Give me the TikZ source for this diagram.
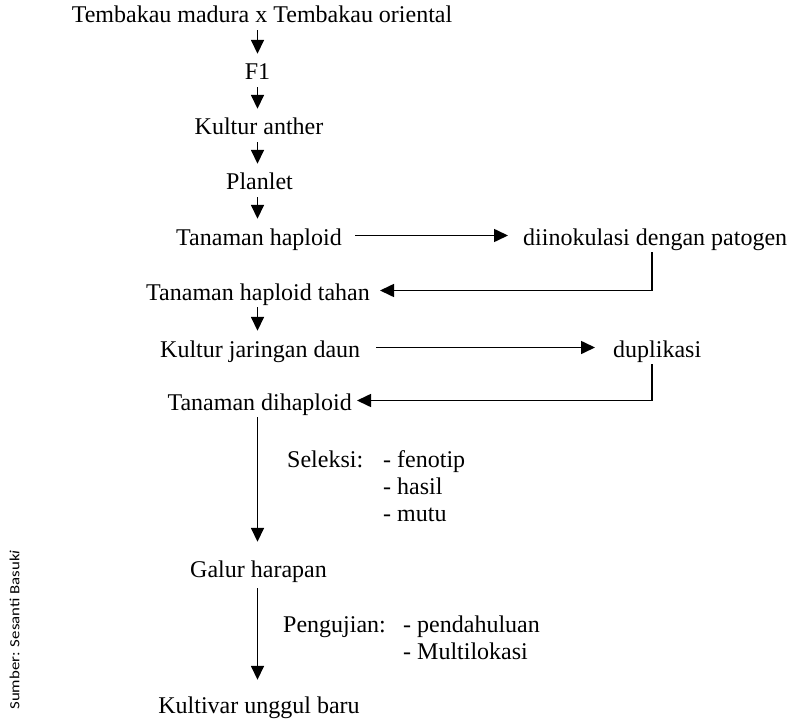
\documentclass[tikz,border=0pt]{standalone}
\usepackage{fontspec}
\setmainfont{Liberation Serif}
\newfontfamily\notefont[FakeStretch=1.2]{Carlito}
\usetikzlibrary{arrows.meta}
\tikzset{
  stage/.style={
    inner xsep=0pt,
    inner ysep=0pt,
    text height=26pt,
    text depth=7pt,
    font=\fontsize{24}{27}\selectfont
  },
  notelist/.style={inner sep=0pt, font=\fontsize{24}{27}\selectfont},
  flowarrow/.style={-{Triangle[length=14pt,width=13pt]}, line width=1.6pt}
}

\begin{document}
\begin{tikzpicture}[x=1pt,y=-1pt]
\useasboundingbox (0,0) rectangle (794,719);
\coordinate (mid) at (257.5,0);
\coordinate (back) at (652,0);
\node[stage, anchor=base] (a) at (262,23) {Tembakau madura x Tembakau oriental};
\node[stage, anchor=base] (b) at (257.5,80) {F1};
\node[stage, anchor=base] (c) at (259,135) {Kultur anther};
\node[stage, anchor=base] (d) at (259.5,190) {Planlet};
\node[stage, anchor=base east] (e) at (342,245) {Tanaman haploid};
\node[stage, anchor=base west] (inok) at (523,245) {diinokulasi dengan patogen};
\node[stage, anchor=base east] (f) at (370,300) {Tanaman haploid tahan};
\node[stage, anchor=base west] (g) at (160,357) {Kultur jaringan daun};
\node[stage, anchor=base west] (dup) at (613,357) {duplikasi};
\node[stage, anchor=base east] (h) at (352,410) {Tanaman dihaploid};
\node[notelist, anchor=base west] (sel) at (287,467)
  {\begin{tabular}[t]{@{}p{96pt}@{}l@{}}Seleksi: & - fenotip\\ & - hasil\\ & - mutu\end{tabular}};
\node[stage, anchor=base] (i) at (258.5,577) {Galur harapan};
\node[notelist, anchor=base west] (uji) at (283,632)
  {\begin{tabular}[t]{@{}p{120pt}@{}l@{}}Pengujian: & - pendahuluan\\ & - Multilokasi\end{tabular}};
\node[stage, anchor=base] (j) at (259,713) {Kultivar unggul baru};
\node[rotate=90, inner sep=0pt, font=\notefont\fontsize{14}{16}\selectfont] (src) at (14.5,630)
  {Sumber: Sesanti Basuk\textit{i}};
% main column
\draw[flowarrow] (a.south -| mid) -- (b.north -| mid);
\draw[flowarrow] (b.south -| mid) -- (c.north -| mid);
\draw[flowarrow] (c.south -| mid) -- (d.north -| mid);
\draw[flowarrow] (d.south -| mid) -- (e.north -| mid);
\draw[flowarrow] (f.south -| mid) -- (g.north -| mid);
\draw[flowarrow, shorten >=9pt] (h.south -| mid) -- (i.north -| mid);
\draw[flowarrow, shorten <=4pt, shorten >=7pt] (i.south -| mid) -- (j.north -| mid);
% side loops
\draw[flowarrow, shorten <=13pt, shorten >=15pt] (e.east) -- (inok.west);
\draw[flowarrow, shorten >=10pt] (inok.south -| back) |- (f.east);
\draw[flowarrow, shorten <=16pt, shorten >=18pt] (g.east) -- (dup.west);
\draw[flowarrow, shorten >=5pt] (dup.south -| back) |- (h.east);
\end{tikzpicture}
\end{document}
